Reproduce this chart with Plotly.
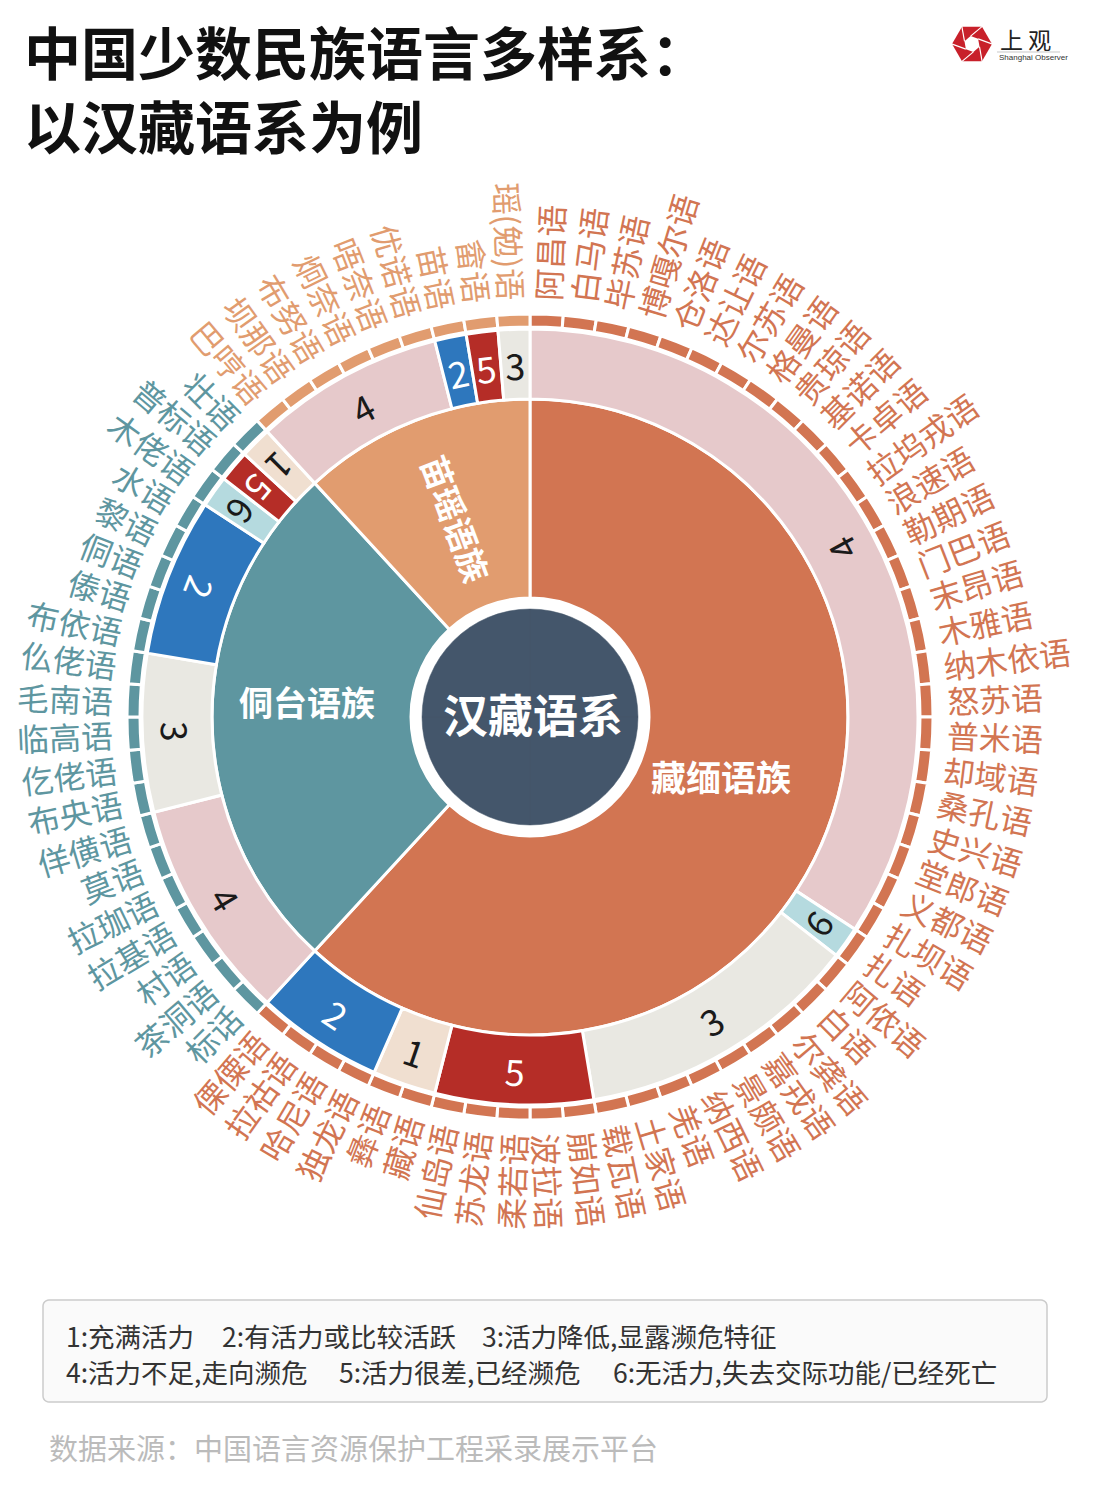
import math
import plotly.graph_objects as go

# ---------------- data ----------------
root_name = "汉藏语系"
families = ["藏缅语族", "侗台语族", "苗瑶语族"]

zm_languages = ["阿昌语", "白马语", "毕苏语", "博嘎尔语", "仓洛语", "达让语", "尔苏语", "格曼语",
                "贵琼语", "基诺语", "卡卓语", "拉坞戎语", "浪速语", "勒期语", "门巴语", "末昂语",
                "木雅语", "纳木依语", "怒苏语", "普米语", "却域语", "桑孔语", "史兴语", "堂郎语",
                "义都语", "扎坝语", "扎语", "阿侬语", "白语", "尔龚语", "嘉戎语", "景颇语", "纳西语",
                "羌语", "土家语", "载瓦语", "崩如语", "波拉语", "柔若语", "苏龙语", "仙岛语",
                "藏语", "彝语", "独龙语", "哈尼语", "拉祜语", "傈僳语"]
zm_vitality = [4, 4, 4, 4, 4, 4, 4, 4, 4, 4, 4, 4, 4, 4, 4, 4, 4, 4, 4, 4, 4, 4, 4, 4, 4, 4,
               6, 3, 3, 3, 3, 3, 3, 3, 3, 3, 5, 5, 5, 5, 5, 1, 1, 2, 2, 2, 2]

dt_languages = ["标话", "茶洞语", "村语", "拉基语", "拉珈语", "莫语", "佯僙语", "布央语", "仡佬语",
                "临高语", "毛南语", "仫佬语", "布依语", "傣语", "侗语", "黎语", "水语", "木佬语",
                "普标语", "壮语"]
dt_vitality = [4, 4, 4, 4, 4, 4, 4, 3, 3, 3, 3, 3, 2, 2, 2, 2, 2, 6, 5, 1]

my_languages = ["巴哼语", "坝那语", "布努语", "炯奈语", "唔奈语", "优诺语", "苗语", "畲语", "瑶(勉)语"]
my_vitality = [4, 4, 4, 4, 4, 4, 2, 5, 3]

title_lines = ["中国少数民族语言多样系：", "以汉藏语系为例"]
legend_line1 = ["1:充满活力", "2:有活力或比较活跃", "3:活力降低,显露濒危特征"]
legend_line2 = ["4:活力不足,走向濒危", "5:活力很差,已经濒危", "6:无活力,失去交际功能/已经死亡"]
source_text = "数据来源：中国语言资源保护工程采录展示平台"

# ---------------- style ----------------
W, H = 1093, 1500
OFF = 8                    # page body margin in the browser
CX, CY = 530, 717          # pixel centre of the wheel (screen)
R_MAX = 405                # radial axis range == pixels
FONT = "Noto Sans CJK SC"
family_colors = ["#D27552", "#5E96A0", "#E19C6F"]
vit_colors = {1: "#F0DFD0", 2: "#2E77BD", 3: "#E9E8E2", 4: "#E6C9CB", 5: "#B52D27", 6: "#B5DADF"}
vit_text_colors = {1: "#1a1a1a", 2: "#ffffff", 3: "#1a1a1a", 4: "#1a1a1a", 5: "#ffffff", 6: "#1a1a1a"}
center_color = "#44566B"
CENTER_R = 108
RING1 = (119, 318)
RING2 = (318, 388)
RING3 = (390, 403)
LABEL_R0 = 417
LABEL_FS = 32
DIGIT_FS = 36
family_label_theta = [107, 274, 339.5]
family_label_r = [200, 224, 212]
family_label_angle = [0, 0, 69.5]
family_label_fs = [35, 34, 33]


def paper(px, py):
    return (px - OFF) / W, 1 - (py - OFF) / H


def polar_px(r, th):
    a = math.radians(th)
    return CX + r * math.sin(a), CY - r * math.cos(a)


lang_lists = [zm_languages, dt_languages, my_languages]
vit_lists = [zm_vitality, dt_vitality, my_vitality]
N = sum(len(l) for l in lang_lists)
step = 360.0 / N

# per-language positions
l_theta, l_name, l_fam = [], [], []
fam_spans = []
runs = []
idx = 0
for f, (langs, vits) in enumerate(zip(lang_lists, vit_lists)):
    fam_spans.append((idx, len(langs)))
    for k, name in enumerate(langs):
        l_theta.append((idx + k + 0.5) * step)
        l_name.append(name)
        l_fam.append(f)
    i = 0
    while i < len(vits):
        j = i
        while j < len(vits) and vits[j] == vits[i]:
            j += 1
        runs.append((f, vits[i], idx + i, j - i))
        i = j
    idx += len(langs)

fig = go.Figure()

# centre disc
fig.add_trace(go.Barpolar(
    r=[CENTER_R] * 4, theta=[45, 135, 225, 315], width=[90] * 4, base=0,
    marker=dict(color=center_color, line=dict(color=center_color, width=0.5)),
    hoverinfo="skip", showlegend=False))

# ring 1: families
fig.add_trace(go.Barpolar(
    r=[RING1[1] - RING1[0]] * 3,
    theta=[(s + n / 2) * step for s, n in fam_spans],
    width=[n * step for s, n in fam_spans],
    base=RING1[0],
    marker=dict(color=family_colors, line=dict(color="white", width=3)),
    text=families, hoverinfo="text", showlegend=False))

# ring 2: vitality runs
fig.add_trace(go.Barpolar(
    r=[RING2[1] - RING2[0]] * len(runs),
    theta=[(s + n / 2) * step for f, v, s, n in runs],
    width=[n * step for f, v, s, n in runs],
    base=RING2[0],
    marker=dict(color=[vit_colors[v] for f, v, s, n in runs], line=dict(color="white", width=3)),
    text=[str(v) for f, v, s, n in runs], hoverinfo="text", showlegend=False))

# ring 3: languages
fig.add_trace(go.Barpolar(
    r=[RING3[1] - RING3[0]] * N, theta=l_theta, width=[step] * N, base=RING3[0],
    marker=dict(color=[family_colors[f] for f in l_fam], line=dict(color="white", width=3)),
    text=l_name, hoverinfo="text", showlegend=False))

annotations = []


def text_len(s, fs):
    w = 0
    for ch in s:
        w += 0.33 * fs if ch in "()" else fs
    return w


# language labels
for th, name, f in zip(l_theta, l_name, l_fam):
    L = text_len(name, LABEL_FS)
    rc = LABEL_R0 + L / 2
    px, py = polar_px(rc, th)
    ang = th - 90 if th < 180 else th - 270
    x, y = paper(px, py)
    annotations.append(dict(x=x, y=y, xref="paper", yref="paper", text=name, showarrow=False,
                            xanchor="center", yanchor="middle", textangle=ang,
                            font=dict(family=FONT, size=LABEL_FS, color=family_colors[f])))

# vitality digits
for f, v, s, n in runs:
    th = (s + n / 2) * step
    rot = th - 180
    if rot > 180:
        rot -= 360
    if rot > 150:
        rot -= 180
    elif rot < -150:
        rot += 180
    px, py = polar_px((RING2[0] + RING2[1]) / 2, th)
    x, y = paper(px, py)
    annotations.append(dict(x=x, y=y, xref="paper", yref="paper", text=str(v), showarrow=False,
                            xanchor="center", yanchor="middle", textangle=rot,
                            font=dict(family=FONT, size=DIGIT_FS, color=vit_text_colors[v])))

# family labels
for k, name in enumerate(families):
    px, py = polar_px(family_label_r[k], family_label_theta[k])
    x, y = paper(px, py)
    annotations.append(dict(x=x, y=y, xref="paper", yref="paper", text="<b>%s</b>" % name,
                            showarrow=False, xanchor="center", yanchor="middle",
                            textangle=family_label_angle[k],
                            font=dict(family=FONT, size=family_label_fs[k], color="white")))

# root label
x, y = paper(CX + 3, CY - 4)
annotations.append(dict(x=x, y=y, xref="paper", yref="paper", text="<b>%s</b>" % root_name,
                        showarrow=False, xanchor="center", yanchor="middle",
                        font=dict(family=FONT, size=45, color="white")))

# title (one two-line text)
x, y = paper(22, 87)
annotations.append(dict(x=x, y=y, xref="paper", yref="paper",
                        text="<br>".join("<b>%s</b>" % t for t in title_lines),
                        showarrow=False, xanchor="left", yanchor="middle", align="left",
                        font=dict(family=FONT, size=57, color="#111111")))

# legend text
for items, ypx, xs in [(legend_line1, 1335, [64, 220, 480]), (legend_line2, 1371, [64, 337, 611])]:
    for item, xp in zip(items, xs):
        x, y = paper(xp, ypx)
        annotations.append(dict(x=x, y=y, xref="paper", yref="paper", text=item, showarrow=False,
                                xanchor="left", yanchor="middle",
                                font=dict(family=FONT, size=26.5, color="#333333")))

# source
x, y = paper(47, 1447)
annotations.append(dict(x=x, y=y, xref="paper", yref="paper", text=source_text, showarrow=False,
                        xanchor="left", yanchor="middle",
                        font=dict(family=FONT, size=29, color="#BBBBBB")))

# logo text
x, y = paper(998, 39)
annotations.append(dict(x=x, y=y, xref="paper", yref="paper", text="上 观", showarrow=False,
                        xanchor="left", yanchor="middle",
                        font=dict(family=FONT, size=23, color="#222222")))
x, y = paper(997, 58)
annotations.append(dict(x=x, y=y, xref="paper", yref="paper", text="Shanghai Observer",
                        showarrow=False, xanchor="left", yanchor="middle",
                        font=dict(family="Liberation Sans", size=8, color="#333333")))

shapes = []


def path_from_px(points, close=True):
    parts = []
    for i, (px, py) in enumerate(points):
        x, y = paper(px, py)
        parts.append(("M" if i == 0 else "L") + " %.6f %.6f" % (x, y))
    return " ".join(parts) + (" Z" if close else "")


# legend box with rounded corners
bx0, by0, bx1, by1, rr = 43, 1300, 1047, 1402, 6
pts = []
for (cxp, cyp, a0) in [(bx1 - rr, by0 + rr, -90), (bx1 - rr, by1 - rr, 0), (bx0 + rr, by1 - rr, 90), (bx0 + rr, by0 + rr, 180)]:
    for t in range(0, 91, 15):
        a = math.radians(a0 + t)
        pts.append((cxp + rr * math.cos(a), cyp + rr * math.sin(a)))
shapes.append(dict(type="path", xref="paper", yref="paper", path=path_from_px(pts),
                   line=dict(color="#CCCCCC", width=1.5), fillcolor="#FAFAFA", layer="below"))

# logo hexagon
LX, LY, LR = 972, 44, 20
hexo = [(LX + LR * math.cos(math.radians(60 * i)), LY + LR * math.sin(math.radians(60 * i))) for i in range(6)]
shapes.append(dict(type="path", xref="paper", yref="paper", path=path_from_px(hexo),
                   line=dict(color="#C8202A", width=0), fillcolor="#C8202A"))
hexi = [(LX + 8 * math.cos(math.radians(60 * i + 20)), LY + 8 * math.sin(math.radians(60 * i + 20))) for i in range(6)]
shapes.append(dict(type="path", xref="paper", yref="paper", path=path_from_px(hexi),
                   line=dict(color="white", width=0), fillcolor="white"))
for i in range(6):
    p0 = hexi[i]
    a = math.radians(60 * i + 20 + 60)
    p1 = (p0[0] + 16 * math.cos(a), p0[1] + 16 * math.sin(a))
    shapes.append(dict(type="path", xref="paper", yref="paper", path=path_from_px([p0, p1], close=False),
                       line=dict(color="white", width=1.2)))
# logo underline
shapes.append(dict(type="path", xref="paper", yref="paper", path=path_from_px([(997, 52), (1060, 52)], close=False),
                   line=dict(color="#BBBBBB", width=0.8)))

dx0, dy0 = paper(CX - R_MAX, CY + R_MAX)
dx1, dy1 = paper(CX + R_MAX, CY - R_MAX)

fig.update_layout(
    width=W, height=H,
    margin=dict(l=0, r=0, t=0, b=0),
    paper_bgcolor="white", plot_bgcolor="white",
    showlegend=False,
    polar=dict(
        domain=dict(x=[dx0, dx1], y=[dy0, dy1]),
        bgcolor="rgba(0,0,0,0)",
        barmode="overlay",
        hole=0,
        radialaxis=dict(range=[0, R_MAX], visible=False, showgrid=False, showline=False, showticklabels=False),
        angularaxis=dict(visible=False, direction="clockwise", rotation=90, showgrid=False,
                         showline=False, showticklabels=False, ticks=""),
    ),
    annotations=annotations,
    shapes=shapes,
)

fig.write_html("out.html")
